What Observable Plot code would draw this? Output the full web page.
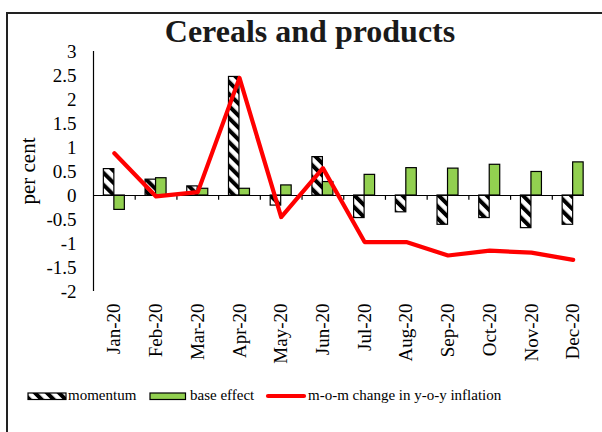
<!DOCTYPE html>
<html>
<head>
<meta charset="utf-8">
<script src="https://cdn.jsdelivr.net/npm/d3@7"></script>
<script src="https://cdn.jsdelivr.net/npm/@observablehq/plot@0.6"></script>
<style>
  body { margin: 0; background: #fff; }
  #wrap { position: relative; width: 602px; height: 432px; overflow: hidden; background: #fff;
          font-family: "Liberation Serif", "Times New Roman", serif; color: #000; }
  #frame { position: absolute; left: 6px; top: 12px; width: 800px; height: 600px;
           border-left: 2px solid #222; border-top: 2px solid #222; }
  #clip { position: absolute; left: 0; top: 0; width: 584px; height: 432px; overflow: hidden; }
  #clip svg { max-width: none !important; }
  #title { position: absolute; left: 0; width: 620px; top: 12px; text-align: center;
           font-weight: bold; font-size: 32px; line-height: 38px; color: #1a1a1a; }
  #ylabel { position: absolute; left: 28px; top: 171px; transform: translate(-50%, -50%) rotate(-90deg);
            font-size: 21px; white-space: nowrap; }
  #legend { position: absolute; left: 0; top: 0; font-family: "Liberation Serif", "Times New Roman", serif; }
</style>
</head>
<body>
<div id="wrap">
  <div id="frame"></div>
  <div id="clip"></div>
  <div id="title">Cereals and products</div>
  <div id="ylabel">per cent</div>
  <svg id="legend" width="602" height="432"></svg>
</div>
<script>
const months = ["Jan-20","Feb-20","Mar-20","Apr-20","May-20","Jun-20","Jul-20","Aug-20","Sep-20","Oct-20","Nov-20","Dec-20"];
const momentum = [0.55, 0.33, 0.19, 2.47, -0.21, 0.80, -0.47, -0.35, -0.61, -0.47, -0.68, -0.61];
const baseEffect = [-0.30, 0.36, 0.14, 0.14, 0.21, 0.28, 0.43, 0.57, 0.56, 0.64, 0.49, 0.69];
const momChange = [0.88, -0.02, 0.07, 2.45, -0.45, 0.57, -0.97, -0.97, -1.25, -1.15, -1.19, -1.34];
const yTicks = [-2, -1.5, -1, -0.5, 0, 0.5, 1, 1.5, 2, 2.5, 3];

const data = months.map((m, i) => ({month: m, momentum: momentum[i], base: baseEffect[i], change: momChange[i]}));

const W = 602, H = 432;
const mL = 93, mR = 8.5, mT = 51, mB = 141;
const bw = (W - mL - mR) / months.length;
const barW = 10.5;
const serif = '"Liberation Serif", "Times New Roman", serif';

const chart = Plot.plot({
  width: W, height: H,
  marginLeft: mL, marginRight: mR, marginTop: mT, marginBottom: mB,
  style: {fontFamily: serif, fontSize: "19px", color: "#000", background: "transparent", overflow: "visible", maxWidth: "none"},
  x: {domain: months, padding: 0, round: false, label: null},
  y: {domain: [-2, 3], label: null},
  marks: [
    Plot.barY(data, {x: "month", y: "momentum", fill: "url(#hatch)", stroke: "#000", strokeWidth: 1.2,
      insetLeft: bw / 2 - barW, insetRight: bw / 2}),
    Plot.barY(data, {x: "month", y: "base", fill: "#92D050", stroke: "#000", strokeWidth: 1.2,
      insetLeft: bw / 2, insetRight: bw / 2 - barW}),
    Plot.ruleY([0], {stroke: "#000", strokeWidth: 1.2}),
    Plot.ruleX(months.slice(1), {x: d => d, y1: 0, y2: -0.1, dx: -bw / 2, stroke: "#000", strokeWidth: 1.2}),
    Plot.ruleX([months[0]], {x: d => d, y1: -2, y2: 3, dx: -bw / 2, stroke: "#000", strokeWidth: 1.2}),
    Plot.line(data, {x: "month", y: "change", stroke: "#FF0000", strokeWidth: 4.2, strokeLinejoin: "round", strokeLinecap: "round"}),
    Plot.axisY({ticks: yTicks, tickFormat: d => String(d), tickSize: 0, tickPadding: 17, fontSize: 19, fontFamily: serif, label: null}),
    Plot.axisX({anchor: "bottom", tickSize: 0, tickPadding: 12, tickRotate: -90, fontSize: 19, fontFamily: serif, label: null})
  ]
});

const ns = "http://www.w3.org/2000/svg";
const patternDef = id => `<pattern id="${id}" patternUnits="userSpaceOnUse" width="8.5" height="8.5" patternTransform="rotate(-45)">
  <rect width="8.5" height="8.5" fill="#fff"/><rect width="4" height="8.5" fill="#000"/></pattern>`;
const defs = document.createElementNS(ns, "defs");
defs.innerHTML = patternDef("hatch");
chart.insertBefore(defs, chart.firstChild);
document.getElementById("clip").appendChild(chart);

// legend
const lg = document.getElementById("legend");
lg.innerHTML = `<defs>${patternDef("hatch2")}</defs>
  <rect x="28" y="393" width="38" height="6.5" fill="url(#hatch2)" stroke="#000" stroke-width="1.2"/>
  <text x="68" y="400" font-size="15">momentum</text>
  <rect x="150" y="393" width="35.5" height="6.5" fill="#92D050" stroke="#000" stroke-width="1.2"/>
  <text x="190" y="400" font-size="15">base effect</text>
  <line x1="268" y1="396" x2="304" y2="396" stroke="#FF0000" stroke-width="4.2" stroke-linecap="round"/>
  <text x="308" y="400" font-size="15">m-o-m change in y-o-y inflation</text>`;
</script>
</body>
</html>
